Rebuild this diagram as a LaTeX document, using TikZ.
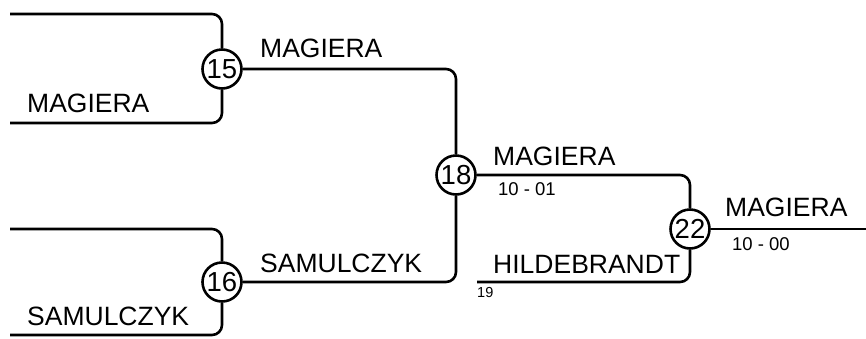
\documentclass[tikz,border=0pt]{standalone}
\usepackage{fontspec}
\setmainfont{Liberation Sans}
\usetikzlibrary{positioning,shapes}

\tikzset{
  game/.style = {circle, draw, line width = 2.6pt, fill = white,
    minimum size = 39pt, inner sep = 0pt, font = \fontsize{27.5}{27.5}\selectfont},
  player/.style = {anchor = base west, inner sep = 0pt, font = \fontsize{26.5}{26.5}\selectfont},
  score/.style = {anchor = base west, inner sep = 0pt, font = \fontsize{18.5}{18.5}\selectfont},
  seednum/.style = {anchor = base west, inner sep = 0pt, font = \fontsize{14.5}{14.5}\selectfont},
  bracket/.style = {line width = 2.6pt, rounded corners = 10pt}
}

\begin{document}
\begin{tikzpicture}[x = 1pt, y = -1pt]
  \useasboundingbox (0, 0) rectangle (866, 338);

  \node[game] (M15) at (222, 69) {15};
  \node[game] (M16) at (222, 282) {16};
  \node[game] (M18) at (456, 175) {18};
  \node[game] (M22) at (690, 229) {22};

  \coordinate (A15) at (10, 14);
  \coordinate (B15) at (10, 123);
  \coordinate (A16) at (10, 229);
  \coordinate (B16) at (10, 335);
  \coordinate (B22) at (477, 282);
  \coordinate (W22) at (866, 229);

  \node[player] (N15b) at (27, 112) {MAGIERA};
  \node[player] (N15) at (260, 57) {MAGIERA};
  \node[player] (N16b) at (27, 325) {SAMULCZYK};
  \node[player] (N16) at (260, 272) {SAMULCZYK};
  \node[player] (N18) at (493, 165) {MAGIERA};
  \node[score] (S18) at (498, 195) {10 - 01};
  \node[player] (N22b) at (493, 273) {HILDEBRANDT};
  \node[seednum] (S19) at (477, 297) {19};
  \node[player] (N22) at (725, 216) {MAGIERA};
  \node[score] (S22) at (732, 250) {10 - 00};

  \draw[bracket] (A15) -| (M15);
  \draw[bracket] (B15) -| (M15);
  \draw[bracket] (A16) -| (M16);
  \draw[bracket] (B16) -| (M16);
  \draw[bracket] (M15) -| (M18);
  \draw[bracket] (M16) -| (M18);
  \draw[bracket] (M18) -| (M22);
  \draw[bracket] (B22) -| (M22);
  \draw[bracket] (M22) -- (W22);
\end{tikzpicture}
\end{document}
